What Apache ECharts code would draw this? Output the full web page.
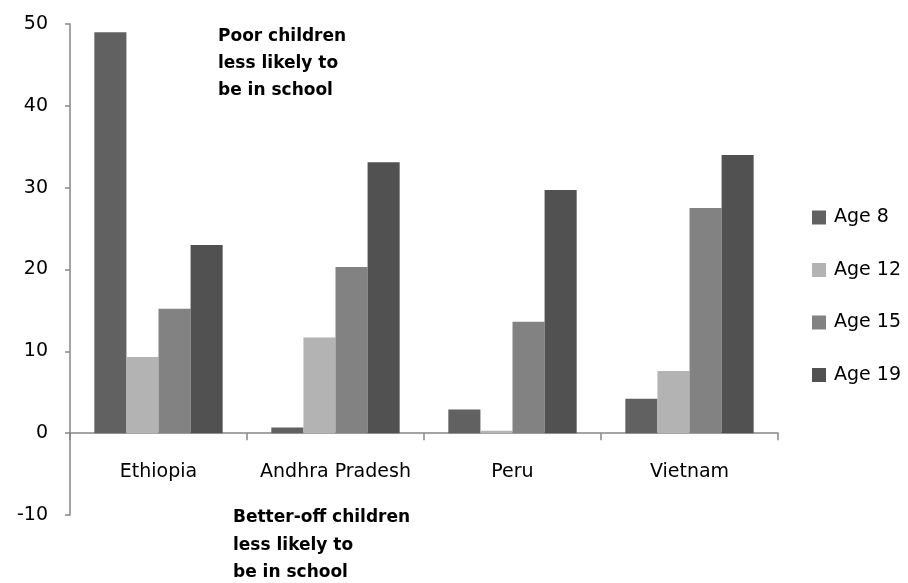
<!DOCTYPE html>
<html>
<head>
<meta charset="utf-8">
<script src="https://cdn.jsdelivr.net/npm/echarts@6/dist/echarts.min.js"></script>
<style>
  html, body { margin: 0; padding: 0; background: #fff; }
  #chart { width: 908px; height: 583px; }
</style>
</head>
<body>
<div id="chart"></div>
<script>
// Share of children not in school, by age group and location
const categories = ['Ethiopia', 'Andhra Pradesh', 'Peru', 'Vietnam'];
const seriesNames = ['Age 8', 'Age 12', 'Age 15', 'Age 19'];
const age8 = [49, 0.7, 2.9, 4.2];
const age12 = [9.3, 11.7, 0.3, 7.6];
const age15 = [15.2, 20.3, 13.6, 27.5];
const age19 = [23, 33.1, 29.7, 34.0];
const yTicks = { min: -10, max: 50, interval: 10 };
const notes = ['Poor children\nless likely to\nbe in school', 'Better-off children\nless likely to\nbe in school'];

const colors = ['#616161', '#b3b3b3', '#828282', '#515151'];
const values = [age8, age12, age15, age19];
const font = "'DejaVu Sans', sans-serif";

const chart = echarts.init(document.getElementById('chart'));
chart.setOption({
  animation: false,
  color: colors,
  grid: { left: 70, right: 130, top: 24, bottom: 68, containLabel: false },
  legend: {
    orient: 'vertical',
    left: 807,
    top: 203,
    itemWidth: 14,
    itemHeight: 14,
    itemGap: 33.5,
    icon: 'rect',
    textStyle: { fontFamily: font, fontSize: 19, color: '#000', padding: [0, 0, 0, 3] },
    data: seriesNames
  },
  xAxis: {
    type: 'category',
    data: categories,
    axisLine: { onZero: true, lineStyle: { color: '#868686', width: 1.5 } },
    axisTick: { show: true, length: 7, lineStyle: { color: '#868686', width: 1.5 } },
    axisLabel: { interval: 0, fontFamily: font, fontSize: 19, color: '#000', margin: -52 }
  },
  yAxis: {
    type: 'value',
    min: yTicks.min,
    max: yTicks.max,
    interval: yTicks.interval,
    splitLine: { show: false },
    axisLine: { show: true, lineStyle: { color: '#868686', width: 1.5 } },
    axisTick: { show: true, length: 5, lineStyle: { color: '#868686', width: 1.5 } },
    axisLabel: { fontFamily: font, fontSize: 19, color: '#000', margin: 22 }
  },
  series: seriesNames.map((name, i) => ({
    name,
    type: 'bar',
    data: values[i],
    barGap: '0%',
    barCategoryGap: '27.5%',
    itemStyle: { color: colors[i] }
  })),
  graphic: [
    {
      type: 'text',
      left: 218,
      top: 23,
      style: { text: notes[0], font: "bold 17px " + font, fill: '#000', lineHeight: 27 }
    },
    {
      type: 'text',
      left: 233,
      top: 504,
      style: { text: notes[1], font: "bold 17px " + font, fill: '#000', lineHeight: 27.5 }
    }
  ]
});
</script>
</body>
</html>
